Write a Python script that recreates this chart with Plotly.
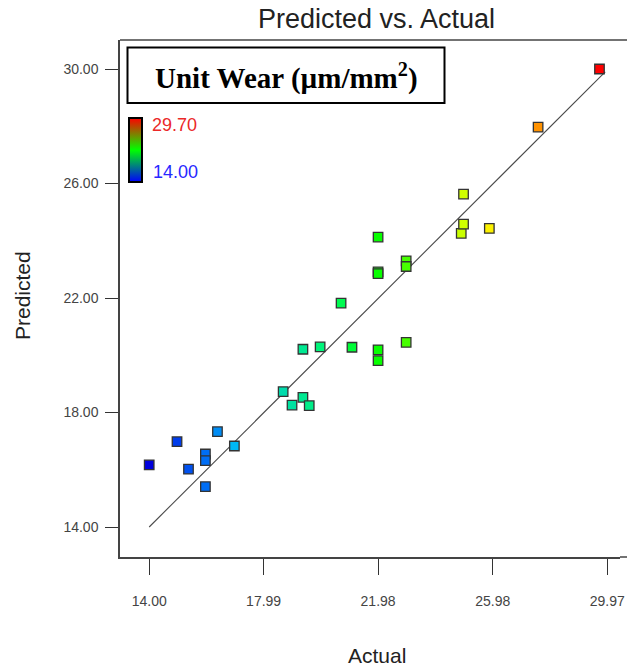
import plotly.graph_objects as go

# ---- data ----
actual = [14.00, 14.97, 15.37, 15.96, 15.96, 15.96, 16.38, 16.97, 18.67, 18.98,
          19.36, 19.58, 19.36, 19.96, 20.69, 21.07, 21.98, 21.98, 21.98, 21.98,
          21.98, 22.96, 22.96, 22.96, 24.88, 24.96, 24.96, 25.86, 27.56, 29.70]
predicted = [16.17, 16.98, 16.02, 16.55, 16.32, 15.41, 17.33, 16.83, 18.73, 18.26,
             18.53, 18.24, 20.21, 20.29, 21.82, 20.28, 24.13, 22.91, 22.85, 20.19,
             19.81, 23.30, 23.10, 20.45, 24.26, 25.63, 24.58, 24.43, 27.97, 30.00]
line_xy = [14.0, 29.9]
x_ticks = [14.00, 17.99, 21.98, 25.98, 29.97]
y_ticks = [14.00, 18.00, 22.00, 26.00, 30.00]
c_min, c_max = 14.00, 29.70

W, H = 627, 671
L, R, T, B = 120, 620, 40, 557  # plot area in px


def px(xp):
    return (xp - L) / (R - L)


def py(yp):
    return (B - yp) / (B - T)


SANS = "Liberation Sans, Arial, sans-serif"

point_scale = [[0.0, "rgb(0,0,220)"], [0.06, "rgb(0,60,235)"],
               [0.125, "rgb(0,110,245)"], [0.19, "rgb(0,185,245)"],
               [0.3, "rgb(0,220,170)"], [0.4, "rgb(0,250,110)"],
               [0.5, "rgb(0,255,0)"], [0.6, "rgb(100,255,0)"],
               [0.7, "rgb(210,255,0)"], [0.76, "rgb(255,240,0)"],
               [0.87, "rgb(255,140,0)"], [1.0, "rgb(255,0,0)"]]

fig = go.Figure()

# 45-degree reference line
fig.add_trace(go.Scatter(x=line_xy, y=line_xy, mode="lines",
                         line=dict(color="#4a4a4a", width=1.1),
                         hoverinfo="skip", showlegend=False))

# data points
fig.add_trace(go.Scatter(
    x=actual, y=predicted, mode="markers", showlegend=False,
    marker=dict(symbol="square", size=9.5, color=actual, cmin=c_min, cmax=c_max,
                colorscale=point_scale, showscale=False,
                line=dict(color="#333333", width=1.3))))

# colour key bar
fig.add_trace(go.Scatter(
    x=[None, None], y=[None, None], mode="markers", showlegend=False,
    hoverinfo="skip",
    marker=dict(color=[c_min, c_max], cmin=c_min, cmax=c_max,
                colorscale=[[0, "rgb(0,0,255)"], [0.5, "rgb(0,255,0)"],
                            [1, "rgb(255,0,0)"]],
                showscale=True,
                colorbar=dict(x=px(129), xanchor="left",
                              y=py(150), yanchor="middle",
                              len=64, lenmode="pixels", thickness=13,
                              outlinewidth=2, outlinecolor="black",
                              xpad=0, ypad=0, showticklabels=False,
                              ticks=""))))

fig.update_layout(
    width=W, height=H,
    margin=dict(l=L, r=W - R, t=T, b=H - B, pad=0, autoexpand=False),
    paper_bgcolor="white", plot_bgcolor="white",
    font=dict(family=SANS, color="#333333"),
    xaxis=dict(range=[14 - (149.2 - L) / 28.68, 14 + (R - 149.2) / 28.68],
               tickvals=x_ticks, ticktext=[f"{v:.2f}" for v in x_ticks],
               ticks="outside", ticklen=16, tickwidth=1.2, tickcolor="#333333",
               showline=True, linecolor="#444444", linewidth=1.5, mirror=False,
               showgrid=False, zeroline=False, ticklabelstandoff=14,
               automargin=False,
               tickfont=dict(size=14, color="#444444", family=SANS)),
    yaxis=dict(range=[14 - (B - 527) / 28.625, 30 + (69 - T) / 28.625],
               tickvals=y_ticks, ticktext=[f"{v:.2f}" for v in y_ticks],
               ticks="outside", ticklen=13, tickwidth=1.2, tickcolor="#333333",
               showline=True, linecolor="#444444", linewidth=1.5, mirror=False,
               showgrid=False, zeroline=False, ticklabelstandoff=4,
               automargin=False,
               tickfont=dict(size=14, color="#444444", family=SANS)),
    shapes=[dict(type="line", xref="paper", yref="paper", x0=0, x1=px(W), y0=1, y1=1,
                 line=dict(color="#444444", width=1.5)),
            dict(type="line", xref="paper", yref="paper", x0=1, x1=px(W), y0=0, y1=0,
                 line=dict(color="#444444", width=1.5)),
            dict(type="rect", xref="paper", yref="paper",
                 x0=px(127.5), x1=px(444.5), y0=py(103), y1=py(47.5),
                 line=dict(color="black", width=2), fillcolor="white")],
    annotations=[
        dict(text="Predicted vs. Actual", xref="paper", yref="paper",
             x=px(376), y=py(19), xanchor="center", yanchor="middle",
             showarrow=False, font=dict(size=27, color="#222222", family=SANS)),
        dict(text="Actual", xref="paper", yref="paper",
             x=px(376.5), y=py(655), xanchor="center", yanchor="middle",
             showarrow=False, font=dict(size=21, color="#222222", family=SANS)),
        dict(text="Predicted", xref="paper", yref="paper", textangle=-90,
             x=px(22), y=py(296), xanchor="center", yanchor="middle",
             showarrow=False, font=dict(size=21, color="#222222", family=SANS)),
        dict(text="<b>Unit Wear (µm/mm<sup>2</sup>)</b>", xref="paper", yref="paper",
             x=px(286), y=py(76), xanchor="center", yanchor="middle",
             showarrow=False,
             font=dict(size=29, color="black",
                       family="Liberation Serif, Times New Roman, serif")),
        dict(text=f"{c_max:.2f}", xref="paper", yref="paper",
             x=px(150), y=py(125), xanchor="left", yanchor="middle",
             showarrow=False, font=dict(size=18, color="rgb(235,40,40)", family=SANS)),
        dict(text=f"{c_min:.2f}", xref="paper", yref="paper",
             x=px(151), y=py(172), xanchor="left", yanchor="middle",
             showarrow=False, font=dict(size=18, color="rgb(40,40,255)", family=SANS)),
    ],
)

fig.write_html("out.html")
